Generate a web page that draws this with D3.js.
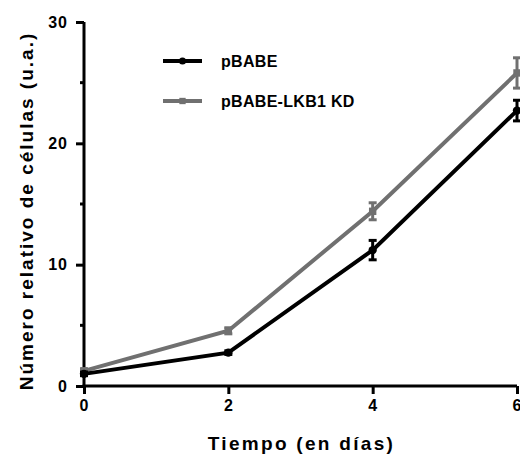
<!DOCTYPE html>
<html>
<head>
<meta charset="utf-8">
<script src="https://cdn.jsdelivr.net/npm/d3@7"></script>
<style>
  body { margin: 0; background: #fff; }
  text { font-family: "Liberation Sans", Arial, sans-serif; font-weight: bold; }
</style>
</head>
<body>
<div class="chart"></div>
<script>
// days and values
var dias = [0, 2, 4, 6];
var pbabe = [1.0, 2.75, 11.2, 22.7];
var pbabeErr = [0.15, 0.15, 0.8, 0.85];
var lkb1 = [1.25, 4.55, 14.4, 25.8];
var lkb1Err = [0.15, 0.25, 0.7, 1.25];
var xTicks = [0, 2, 4, 6];
var yTicks = [0, 10, 20, 30];
var yMinor = [5, 15, 25];

var width = 520, height = 455;

var series = [
  {name: "pBABE", values: pbabe, err: pbabeErr, color: "#000000", sym: d3.symbolCircle},
  {name: "pBABE-LKB1 KD", values: lkb1, err: lkb1Err, color: "#707070", sym: d3.symbolSquare}
];

var svg = d3.select(".chart").append("svg")
  .attr("width", width)
  .attr("height", height);

var x = d3.scaleLinear().domain([0, 6]).range([84, 517]);
var y = d3.scaleLinear().domain([0, 30]).range([386, 22]);

//axes
var xAxis = svg.append("g")
  .attr("transform", "translate(0," + y(0) + ")")
  .call(d3.axisBottom(x).tickValues(xTicks).tickFormat(d3.format("d")).tickSize(8).tickPadding(6));
var yAxis = svg.append("g")
  .attr("transform", "translate(" + x(0) + ",0)")
  .call(d3.axisLeft(y).tickValues(yTicks).tickFormat(d3.format("d")).tickSize(8).tickPadding(8));

[xAxis, yAxis].forEach(function(a){
  a.select(".domain").attr("stroke-width", 3);
  a.selectAll(".tick line").attr("stroke-width", 3);
  a.selectAll(".tick text")
    .attr("font-size", 16)
    .attr("letter-spacing", 1)
    .attr("fill", "#000");
});
// axis lines drawn plainly so the corners meet
xAxis.select(".domain").attr("d", "M" + (x(0) - 1.5) + ",0H" + x(6));
yAxis.select(".domain").attr("d", "M0," + (y(0) + 1.5) + "V" + y(30));

yAxis.selectAll(".minor")
  .data(yMinor).enter()
  .append("line")
  .attr("class", "minor")
  .attr("x1", -4).attr("x2", 0)
  .attr("y1", function(d){ return y(d); })
  .attr("y2", function(d){ return y(d); })
  .attr("stroke", "#000")
  .attr("stroke-width", 3);

//axis titles
svg.append("text")
  .attr("x", (x(0) + x(6)) / 2 + 1)
  .attr("y", 450)
  .attr("text-anchor", "middle")
  .attr("font-size", 19)
  .attr("letter-spacing", 2.3)
  .text("Tiempo (en días)");

svg.append("text")
  .attr("transform", "translate(33," + 211 + ") rotate(-90)")
  .attr("text-anchor", "middle")
  .attr("font-size", 19)
  .attr("letter-spacing", 2)
  .text("Número relativo de células (u.a.)");

var line = d3.line()
  .x(function(d, i){ return x(dias[i]); })
  .y(function(d){ return y(d); });

// gray series first so black sits on top
series.slice().reverse().forEach(function(s){
  var g = svg.append("g");
  g.append("path")
    .attr("d", line(s.values))
    .attr("fill", "none")
    .attr("stroke", s.color)
    .attr("stroke-width", 4);

  var eb = g.selectAll(".err")
    .data(s.values).enter()
    .append("g");
  eb.append("line")
    .attr("x1", function(d, i){ return x(dias[i]); })
    .attr("x2", function(d, i){ return x(dias[i]); })
    .attr("y1", function(d, i){ return y(d - s.err[i]); })
    .attr("y2", function(d, i){ return y(d + s.err[i]); })
    .attr("stroke", s.color)
    .attr("stroke-width", 3);
  [-1, 1].forEach(function(sign){
    eb.append("line")
      .attr("x1", function(d, i){ return x(dias[i]) - 4; })
      .attr("x2", function(d, i){ return x(dias[i]) + 4; })
      .attr("y1", function(d, i){ return y(d + sign * s.err[i]); })
      .attr("y2", function(d, i){ return y(d + sign * s.err[i]); })
      .attr("stroke", s.color)
      .attr("stroke-width", 3);
  });

  g.selectAll(".pt")
    .data(s.values).enter()
    .append("path")
    .attr("d", d3.symbol().type(s.sym).size(55))
    .attr("transform", function(d, i){ return "translate(" + x(dias[i]) + "," + y(d) + ")"; })
    .attr("fill", s.color);
});

//legend
var legend = svg.selectAll(".legend")
  .data(series).enter()
  .append("g")
  .attr("class", "legend")
  .attr("transform", function(d, i){ return "translate(163," + (61 + i * 40) + ")"; });
legend.append("line")
  .attr("x1", 0).attr("x2", 39)
  .attr("stroke", function(d){ return d.color; })
  .attr("stroke-width", 4);
legend.append("path")
  .attr("d", function(d){ return d3.symbol().type(d.sym).size(40)(); })
  .attr("transform", "translate(19.5,0)")
  .attr("fill", function(d){ return d.color; });
legend.append("text")
  .attr("x", 58)
  .attr("y", 5.5)
  .attr("font-size", 16)
  .attr("letter-spacing", 0.3)
  .text(function(d){ return d.name; });
</script>
</body>
</html>
